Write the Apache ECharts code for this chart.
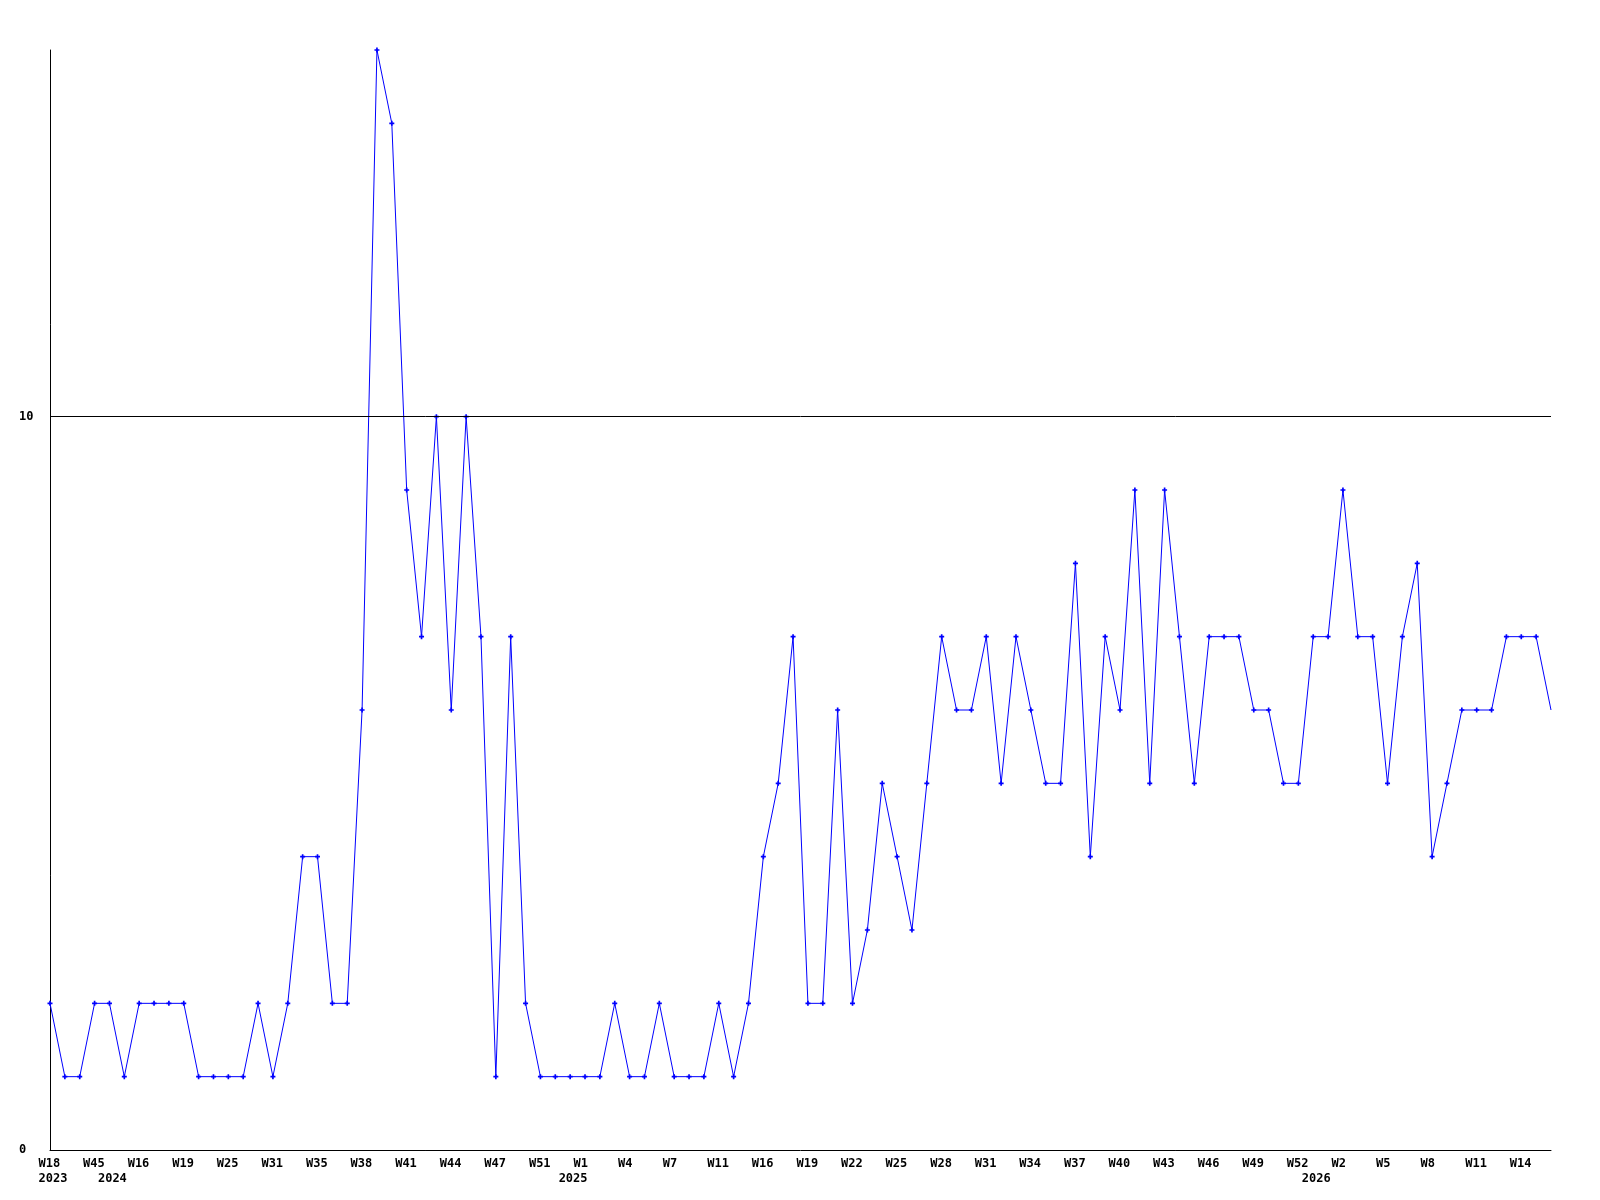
<!DOCTYPE html>
<html>
<head>
<meta charset="utf-8">
<script src="https://cdn.jsdelivr.net/npm/echarts@6/dist/echarts.min.js"></script>
<style>
html,body{margin:0;padding:0;background:#fff;}
#chart{width:1600px;height:1200px;}
</style>
</head>
<body>
<div id="chart"></div>
<script>
// Week label of each point (only every third is shown on the axis)
const weeks = [
  'W18','W19','W44','W45','W2','W15','W16','W17','W18','W19',
  'W21','W23','W25','W27','W29','W31','W33','W34','W35','W36',
  'W37','W38','W39','W40','W41','W42','W43','W44','W45','W46',
  'W47','W48','W50','W51','W52','W1','W1','W2','W3','W4',
  'W5','W6','W7','W8','W10','W11','W13','W15','W16','W17',
  'W18','W19','W20','W21','W22','W23','W24','W25','W26','W27',
  'W28','W29','W30','W31','W32','W33','W34','W35','W36','W37',
  'W38','W39','W40','W41','W42','W43','W44','W45','W46','W47',
  'W48','W49','W50','W51','W52','W1','W1','W2','W3','W4',
  'W5','W6','W7','W8','W9','W10','W11','W12','W13','W14',
  'W15','W16'
];
// Year of each point
const years = [
  '2023','2023','2023','2023',
  '2024','2024','2024','2024','2024','2024','2024','2024','2024','2024',
  '2024','2024','2024','2024','2024','2024','2024','2024','2024','2024',
  '2024','2024','2024','2024','2024','2024','2024','2024','2024','2024','2024',
  '2025','2025','2025','2025','2025','2025','2025','2025','2025','2025',
  '2025','2025','2025','2025','2025','2025','2025','2025','2025','2025',
  '2025','2025','2025','2025','2025','2025','2025','2025','2025','2025',
  '2025','2025','2025','2025','2025','2025','2025','2025','2025','2025',
  '2025','2025','2025','2025','2025','2025','2025','2025','2025','2025',
  '2026','2026','2026','2026','2026','2026','2026','2026','2026','2026',
  '2026','2026','2026','2026','2026','2026','2026'
];
const values = [
  2,1,1,2,2,1,2,2,2,2,
  1,1,1,1,2,1,2,4,4,2,
  2,6,15,14,9,7,10,6,10,7,
  1,7,2,1,1,1,1,1,2,1,
  1,2,1,1,1,2,1,2,4,5,
  7,2,2,6,2,3,5,4,3,5,
  7,6,6,7,5,7,6,5,5,8,
  4,7,6,9,5,9,7,5,7,7,
  7,6,6,5,5,7,7,9,7,7,
  5,7,8,4,5,6,6,6,7,7,
  7,6
];
const yTickLabels = [0, 10];
const refLineValue = 10;

const FONT = 'DejaVu Sans Mono';
const cats = weeks.map((w, i) => i + ':' + w);

const chart = echarts.init(document.getElementById('chart'), null, {renderer: 'canvas'});
chart.setOption({
  animation: false,
  backgroundColor: '#ffffff',
  grid: [
    {left: 50, right: 49, top: 50, bottom: 50},
    {left: 38.5, right: 60.5, top: 50, bottom: 50}
  ],
  xAxis: [
    {
      type: 'category', gridIndex: 0, data: cats, boundaryGap: false,
      axisLine: {show: true, lineStyle: {color: '#000', width: 1}},
      axisTick: {show: false}, axisLabel: {show: false}, splitLine: {show: false}
    },
    {
      type: 'category', gridIndex: 1, data: cats, boundaryGap: false,
      axisLine: {show: false}, axisTick: {show: false}, splitLine: {show: false},
      axisLabel: {
        show: true, interval: 0, align: 'left', margin: 6,
        fontFamily: FONT, fontWeight: 'bold', fontSize: 12, color: '#000',
        lineHeight: 15, hideOverlap: false,
        formatter: function (v, i) {
          const w = (i % 3 === 0) ? weeks[i] : '';
          const y = (i === 0 || years[i] !== years[i - 1]) ? years[i] : '';
          if (!w && !y) return '';
          return y ? (w + '\n' + y) : w;
        }
      }
    }
  ],
  yAxis: [
    {
      type: 'value', gridIndex: 0, min: 0, max: 15, interval: 5,
      axisLine: {show: true, lineStyle: {color: '#000', width: 1}},
      axisTick: {show: false}, splitLine: {show: false},
      axisLabel: {
        show: true, align: 'left', margin: 31,
        fontFamily: FONT, fontWeight: 'bold', fontSize: 12, color: '#000',
        formatter: function (v) { return yTickLabels.indexOf(v) >= 0 ? String(v) : ''; }
      }
    },
    {type: 'value', gridIndex: 1, min: 0, max: 15, show: false}
  ],
  series: [{
    type: 'line',
    xAxisIndex: 0, yAxisIndex: 0,
    data: values.map((v, i) => i === values.length - 1 ? {value: v, symbol: 'none'} : v),
    symbol: 'path://M2,0H4V2H6V4H4V6H2V4H0V2H2Z',
    symbolSize: 5,
    showSymbol: true,
    clip: true,
    lineStyle: {color: '#0000ff', width: 1},
    itemStyle: {color: '#0000ff'},
    emphasis: {disabled: true},
    markLine: {
      silent: true, symbol: 'none', animation: false,
      label: {show: false},
      lineStyle: {color: '#000', width: 1, type: 'solid'},
      emphasis: {disabled: true},
      data: [{yAxis: refLineValue}]
    }
  }]
});
</script>
</body>
</html>
